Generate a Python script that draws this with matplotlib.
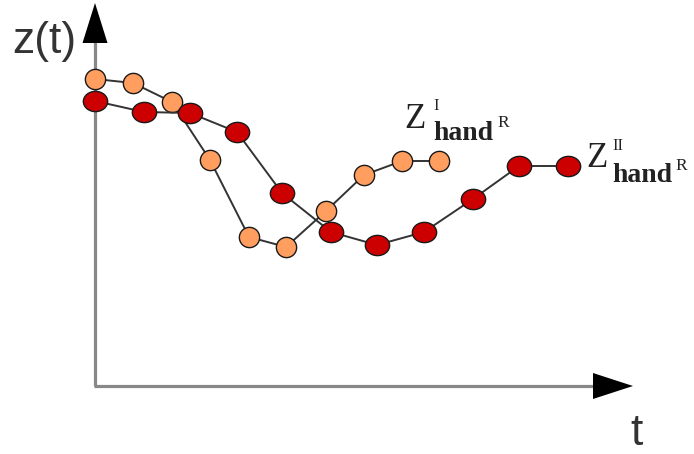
import matplotlib
matplotlib.use("Agg")
import matplotlib.pyplot as plt
from matplotlib.path import Path
from matplotlib.transforms import Affine2D
from matplotlib.patches import Polygon

# Data (t, z)
t_I = [0.0, 3.8, 7.7, 11.5, 15.4, 19.1, 23.1, 26.9, 30.7, 34.4]
z_I = [30.7, 30.3, 28.4, 22.6, 14.9, 13.9, 17.5, 21.1, 22.5, 22.5]

t_II = [0.0, 4.9, 9.5, 14.2, 18.7, 23.6, 28.2, 32.9, 37.8, 42.4, 47.3]
z_II = [28.5, 27.4, 27.3, 25.4, 19.3, 15.4, 14.1, 15.4, 18.7, 22.0, 22.0]

fig = plt.figure(figsize=(6.94, 4.54), dpi=100)
ax = fig.add_axes([0, 0, 1, 1])
ax.set_xlim(-9.5, 59.9)
ax.set_ylim(-6.8, 38.6)
ax.axis("off")

axis_col = "#888888"
ax.plot([0, 0], [0, 34.6], color=axis_col, lw=2.3, solid_capstyle="butt", zorder=1)
ax.plot([-0.1, 50.0], [0, 0], color=axis_col, lw=2.3, solid_capstyle="butt", zorder=1)
ax.add_patch(Polygon([[0, 38.3], [-1.25, 34.3], [1.25, 34.3]], closed=True,
                     facecolor="black", edgecolor="none", zorder=2))
ax.add_patch(Polygon([[53.8, 0], [49.8, 1.3], [49.8, -1.3]], closed=True,
                     facecolor="black", edgecolor="none", zorder=2))

ellipse = Path.unit_circle().transformed(Affine2D().scale(1.2, 1.0))

ax.plot(t_I, z_I, color="#333333", lw=1.4, zorder=3,
        marker="o", markersize=14.6, markerfacecolor="#FF9E5E",
        markeredgecolor="#1a1a1a", markeredgewidth=1.0)
ax.plot(t_II, z_II, color="#333333", lw=1.4, zorder=3,
        marker=ellipse, markersize=17.5, markerfacecolor="#CC0000",
        markeredgecolor="#1a1a1a", markeredgewidth=1.0)

sans = ["Liberation Sans", "DejaVu Sans"]
serif = ["Liberation Serif", "DejaVu Serif"]
txtcol = "#333333"
ax.text(-8.3, 33.3, "z(t)", fontsize=32, family=sans, color=txtcol,
        ha="left", va="baseline")
ax.text(53.5, -5.9, "t", fontsize=32, family=sans, color=txtcol,
        ha="left", va="baseline")

def label(x0, y0, sup, xsup, ysup, xh, yh, xr, yr):
    ax.text(x0, y0, "Z", fontsize=25, family=serif, color="#222222",
            ha="left", va="baseline")
    ax.text(xsup, ysup, sup, fontsize=12, family=serif, color="#222222",
            ha="left", va="baseline")
    ax.text(xh, yh, "hand", fontsize=20, family=serif, fontweight="bold",
            color="#222222", ha="left", va="baseline")
    ax.text(xr, yr, "R", fontsize=12.5, family=serif, color="#222222",
            ha="left", va="baseline")

label(30.9, 25.8, "I", 33.8, 27.6, 33.8, 24.6, 40.2, 25.9)
label(49.1, 21.9, "II", 51.7, 23.6, 51.7, 20.4, 58.0, 21.6)

fig.savefig("out.png", dpi=100)
